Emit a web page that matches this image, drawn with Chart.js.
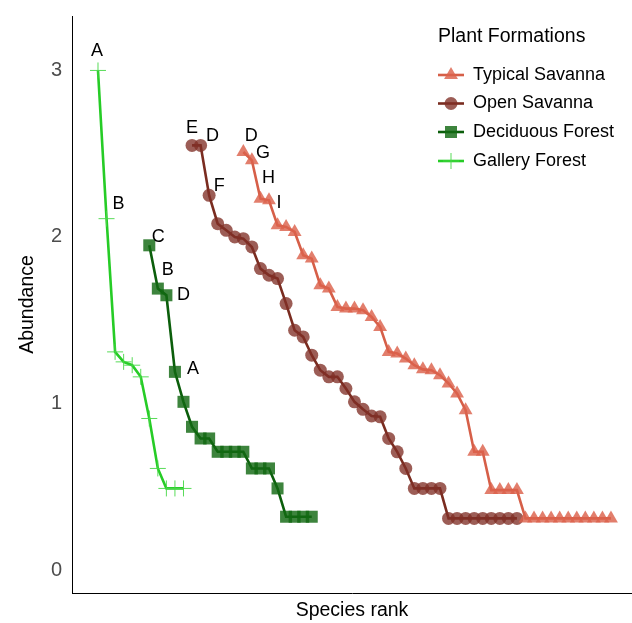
<!DOCTYPE html>
<html><head><meta charset="utf-8">
<script src="https://cdn.jsdelivr.net/npm/chart.js@4.4.1/dist/chart.umd.min.js"></script>
<style>html,body{margin:0;padding:0;background:#fff;overflow:hidden}canvas{display:block}</style>
</head><body>
<canvas id="c" width="632" height="623"></canvas>
<script>
// ---- data (log abundance) ----
const seriesNames = ['Typical Savanna', 'Open Savanna', 'Deciduous Forest', 'Gallery Forest'];

const typicalStartRank = 18;
const typicalValues = [2.51, 2.46, 2.23, 2.22, 2.07, 2.06, 2.03, 1.89, 1.87, 1.71, 1.69, 1.58, 1.57, 1.57,
  1.56, 1.52, 1.46, 1.31, 1.30, 1.27, 1.23, 1.205, 1.20, 1.17, 1.12, 1.06, 0.96, 0.71, 0.71,
  0.48, 0.48, 0.48, 0.48, 0.31, 0.31, 0.31, 0.31, 0.31, 0.31, 0.31, 0.31, 0.31, 0.31, 0.31];
const typicalLetters = ['D', 'G', 'H', 'I'];

const openStartRank = 12;
const openValues = [2.55, 2.55, 2.25, 2.08, 2.04, 2.00, 1.99, 1.94, 1.81, 1.77, 1.75, 1.60, 1.44, 1.40,
  1.29, 1.20, 1.16, 1.16, 1.09, 1.01, 0.965, 0.925, 0.92, 0.79, 0.71, 0.61, 0.49, 0.49, 0.49, 0.49,
  0.31, 0.31, 0.31, 0.31, 0.31, 0.31, 0.31, 0.31, 0.31];
const openLetters = ['E', 'D', 'F'];

const deciduousStartRank = 7;
const deciduousValues = [1.95, 1.69, 1.65, 1.19, 1.01, 0.86, 0.79, 0.79, 0.71, 0.71, 0.71, 0.71,
  0.61, 0.61, 0.61, 0.49, 0.32, 0.32, 0.32, 0.32];
const deciduousLetters = ['C', 'B', 'D', 'A'];

const galleryStartRank = 1;
const galleryValues = [3.0, 2.11, 1.31, 1.25, 1.23, 1.16, 0.91, 0.61, 0.49, 0.49, 0.49];
const galleryLetters = ['A', 'B'];

const yTickValues = [0, 1, 2, 3];

// ---- styling ----
const FONT = "'Liberation Sans', Arial, sans-serif";
const styles = [
  {line: '#d65f48', point: 'rgba(220,98,76,0.82)', shape: 'triangle', r: 8, bw: 0,
   offsets: [[8, -16], [11, -7], [8, -21], [10, 3]]},
  {line: '#7a2c20', point: 'rgba(128,48,38,0.78)', shape: 'circle', r: 6.5, bw: 0,
   offsets: [[0, -17], [12, -9], [10, -9]]},
  {line: '#0b5e0b', point: 'rgba(18,105,18,0.82)', shape: 'rect', r: 8.5, bw: 0,
   offsets: [[9, -8], [10, -19], [17, 0], [18, -3]]},
  {line: '#26cc26', point: 'rgba(70,215,70,0.9)', shape: 'cross', r: 8, bw: 1,
   offsets: [[-1, -19], [12, -15]]}
];

function toPoints(start, vals) { return vals.map((v, i) => ({x: start + i, y: v})); }
const allSeries = [
  {start: typicalStartRank, vals: typicalValues, letters: typicalLetters},
  {start: openStartRank, vals: openValues, letters: openLetters},
  {start: deciduousStartRank, vals: deciduousValues, letters: deciduousLetters},
  {start: galleryStartRank, vals: galleryValues, letters: galleryLetters}
];

const datasets = allSeries.map((s, k) => {
  const st = styles[k];
  return {
    label: seriesNames[k],
    data: toPoints(s.start, s.vals),
    letters: s.letters,
    letterOffsets: st.offsets,
    showLine: true,
    tension: 0,
    borderColor: st.line,
    borderWidth: 2.6,
    pointStyle: st.shape,
    pointRadius: st.r,
    pointHoverRadius: st.r,
    pointBackgroundColor: st.point,
    pointBorderColor: st.shape === 'cross' ? st.point : 'rgba(0,0,0,0)',
    pointBorderWidth: st.bw,
    clip: false,
    order: k
  };
});

const letterPlugin = {
  id: 'letters',
  afterDatasetsDraw(chart) {
    const ctx = chart.ctx;
    ctx.save();
    ctx.font = '18px ' + FONT;
    ctx.fillStyle = '#000';
    ctx.textAlign = 'center';
    ctx.textBaseline = 'middle';
    chart.data.datasets.forEach((ds, di) => {
      const meta = chart.getDatasetMeta(di);
      ds.letters.forEach((t, i) => {
        const el = meta.data[i];
        const o = ds.letterOffsets[i] || [0, 0];
        ctx.fillText(t, el.x + o[0], el.y + o[1]);
      });
    });
    ctx.restore();
  }
};

const legendPlugin = {
  id: 'innerLegend',
  afterDraw(chart) {
    const ctx = chart.ctx;
    ctx.save();
    ctx.fillStyle = '#000';
    ctx.textBaseline = 'middle';
    ctx.textAlign = 'left';
    ctx.font = '19.5px ' + FONT;
    ctx.fillText('Plant Formations', 438, 37);
    const ys = [75, 103.5, 132, 161];
    chart.data.datasets.forEach((ds, i) => {
      const y = ys[i];
      ctx.strokeStyle = ds.borderColor;
      ctx.lineWidth = 2.6;
      ctx.beginPath(); ctx.moveTo(438, y); ctx.lineTo(464, y); ctx.stroke();
      ctx.fillStyle = ds.pointBackgroundColor;
      ctx.strokeStyle = ds.pointBorderColor;
      ctx.lineWidth = ds.pointBorderWidth;
      Chart.helpers.drawPoint(ctx, {pointStyle: ds.pointStyle, rotation: 0, radius: ds.pointRadius, borderWidth: ds.pointBorderWidth}, 451, y);
      ctx.fillStyle = '#000';
      ctx.font = '18px ' + FONT;
      ctx.fillText(ds.label, 473, y);
    });
    ctx.restore();
  }
};

function zeroPad(s) { s.paddingTop = 0; s.paddingBottom = 0; s.paddingLeft = 0; s.paddingRight = 0; }

new Chart(document.getElementById('c'), {
  type: 'scatter',
  data: {datasets},
  plugins: [letterPlugin, legendPlugin],
  options: {
    responsive: false,
    animation: false,
    devicePixelRatio: 1,
    events: [],
    layout: {autoPadding: false, padding: {top: 16, left: 0, right: 0, bottom: 0}},
    plugins: {legend: {display: false}, tooltip: {enabled: false}},
    scales: {
      x: {
        type: 'linear', min: -2.04, max: 63.46,
        grid: {display: false, drawTicks: false},
        ticks: {display: false},
        border: {display: true, color: '#000', width: 1},
        title: {display: true, text: 'Species rank', color: '#000',
                font: {size: 19.5, family: FONT}, padding: {top: 0, bottom: 1}},
        afterFit(s) { s.height = 30; zeroPad(s); }
      },
      y: {
        type: 'linear', min: -0.138, max: 3.327,
        afterBuildTicks(s) { s.ticks = yTickValues.map(v => ({value: v})); },
        grid: {display: false, drawTicks: false},
        ticks: {color: '#4d4d4d', font: {size: 20, family: FONT}, padding: 10},
        border: {display: true, color: '#000', width: 1},
        title: {display: true, text: 'Abundance', color: '#000',
                font: {size: 19.5, family: FONT}, padding: {top: 16, bottom: 0}},
        afterFit(s) { s.width = 72; zeroPad(s); }
      }
    }
  }
});
</script>
</body></html>
